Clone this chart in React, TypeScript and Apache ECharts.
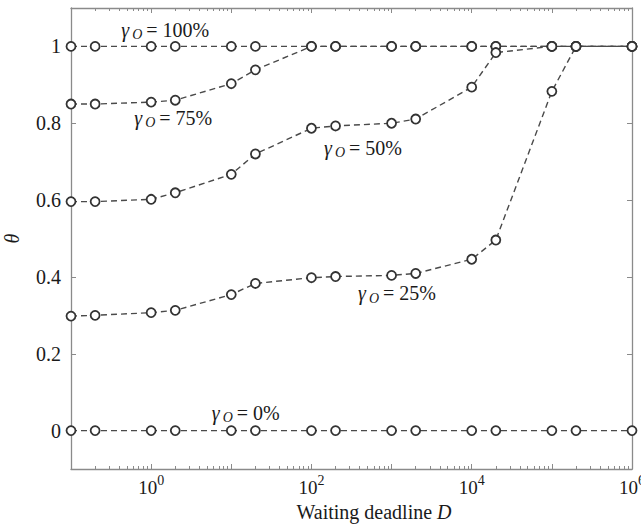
import React, { useEffect, useRef } from "react";
import * as echarts from "echarts";

const xValues = [0.1, 0.2, 1, 2, 10, 20, 100, 200, 1000, 2000, 1e4, 2e4, 1e5, 2e5, 1e6];
const theta100 = [1, 1, 1, 1, 1, 1, 1, 1, 1, 1, 1, 1, 1, 1, 1];
const theta75 = [0.85, 0.85, 0.855, 0.86, 0.903, 0.939, 1, 1, 1, 1, 1, 1, 1, 1, 1];
const theta50 = [0.596, 0.596, 0.602, 0.619, 0.667, 0.72, 0.787, 0.793, 0.8, 0.811, 0.894, 0.984, 1, 1, 1];
const theta25 = [0.298, 0.3, 0.307, 0.313, 0.354, 0.383, 0.398, 0.401, 0.404, 0.409, 0.446, 0.496, 0.883, 1, 1];
const theta0 = [0, 0, 0, 0, 0, 0, 0, 0, 0, 0, 0, 0, 0, 0, 0];
const yTicks = [0, 0.2, 0.4, 0.6, 0.8, 1];
const xLabelTicks = [1, 100, 1e4, 1e6];
const xMinorTicks: number[] = [];
for (let e = -1; e < 6; e++) for (let m = 2; m <= 9; m++) xMinorTicks.push(m * Math.pow(10, e));

const annotations = [
  { pct: "100%", x: 0.423, y: 1.044 },
  { pct: "75%", x: 0.617, y: 0.814 },
  { pct: "50%", x: 143, y: 0.736 },
  { pct: "25%", x: 382, y: 0.357 },
  { pct: "0%", x: 5.7, y: 0.047 },
];

const SERIF = "Liberation Serif, Times New Roman, serif";
const AXIS = "#8a8a8a";
const TXT = "#1a1a1a";

export default function App() {
  const ref = useRef<HTMLDivElement>(null);
  useEffect(() => {
    document.body.style.margin = "0";
    if (!ref.current) return;
    const chart = echarts.init(ref.current, undefined, { renderer: "svg" });
    const mk = (name: string, data: number[]) => ({
      name,
      type: "line",
      xAxisIndex: 0,
      yAxisIndex: 0,
      data: xValues.map((x, i) => [x, data[i]]),
      symbol: "circle",
      symbolSize: 9,
      lineStyle: { color: "#4a4a4a", width: 1.4, type: [6, 4] },
      itemStyle: { color: "#fff", borderColor: "#333", borderWidth: 1.8 },
      z: 3,
    });
    const xBase = {
      type: "log",
      logBase: 10,
      min: 0.1,
      max: 1e6,
      axisLine: { show: true, onZero: false, lineStyle: { color: AXIS, width: 1.3 } },
      splitLine: { show: false },
    };
    const yBase = {
      type: "value",
      min: -0.1,
      max: 1.1,
      axisLine: { show: true, onZero: false, lineStyle: { color: AXIS, width: 1.3 } },
      splitLine: { show: false },
    };
    chart.setOption({
      animation: false,
      backgroundColor: "#fff",
      grid: { left: 71, right: 9, top: 8, bottom: 59, containLabel: false, outerBoundsMode: "none" },
      xAxis: [
        {
          ...xBase,
          position: "bottom",
          axisTick: { show: true, inside: true, length: 5, lineStyle: { color: AXIS } },
          axisLabel: {
            margin: 4,
            customValues: xLabelTicks,
            formatter: (v: number) => `{b|10}{s|${Math.round(Math.log10(v))}}`,
            rich: {
              b: { fontFamily: SERIF, fontSize: 19, color: TXT, lineHeight: 24, verticalAlign: "bottom" },
              s: { fontFamily: SERIF, fontSize: 14, color: TXT, lineHeight: 24, verticalAlign: "top", padding: [0, 0, 7, 0] },
            },
          },
          name: "Waiting deadline {i|D}",
          nameLocation: "middle",
          nameGap: 30,
          nameTextStyle: {
            fontFamily: SERIF,
            fontSize: 20,
            color: TXT,
            padding: [0, 0, 0, 45],
            rich: { i: { fontFamily: SERIF, fontSize: 20, fontStyle: "italic", color: TXT } },
          },
        },
        {
          ...xBase,
          position: "bottom",
          axisLine: { show: false, onZero: false },
          axisTick: { show: true, inside: true, length: 3, customValues: xMinorTicks, lineStyle: { color: AXIS } },
          axisLabel: { show: false },
        },
        {
          ...xBase,
          position: "top",
          axisTick: { show: true, inside: true, length: 5, lineStyle: { color: AXIS } },
          axisLabel: { show: false },
        },
        {
          ...xBase,
          position: "top",
          axisLine: { show: false, onZero: false },
          axisTick: { show: true, inside: true, length: 3, customValues: xMinorTicks, lineStyle: { color: AXIS } },
          axisLabel: { show: false },
        },
      ],
      yAxis: [
        {
          ...yBase,
          position: "left",
          axisTick: { show: true, inside: true, length: 5, customValues: yTicks, lineStyle: { color: AXIS } },
          axisLabel: {
            customValues: yTicks,
            fontFamily: SERIF,
            fontSize: 20,
            color: TXT,
            margin: 10,
            formatter: (v: number) => String(Math.round(v * 10) / 10),
          },
          name: "θ",
          nameLocation: "middle",
          nameRotate: 90,
          nameGap: 49,
          nameTextStyle: { fontFamily: SERIF, fontSize: 20, fontStyle: "italic", color: TXT },
        },
        {
          ...yBase,
          position: "right",
          axisTick: { show: true, inside: true, length: 5, customValues: yTicks, lineStyle: { color: AXIS } },
          axisLabel: { show: false },
        },
      ],
      series: [
        mk("100%", theta100),
        mk("75%", theta75),
        mk("50%", theta50),
        mk("25%", theta25),
        mk("0%", theta0),
      ],
    });

    const graphics = annotations.map((a) => {
      const p = chart.convertToPixel({ xAxisIndex: 0, yAxisIndex: 0 }, [a.x, a.y]) as number[];
      return {
        type: "group",
        x: p[0],
        y: p[1],
        z: 10,
        children: [
          {
            type: "text",
            x: 0,
            y: 0,
            style: { text: "γ", font: `italic 20px ${SERIF}`, fill: TXT, verticalAlign: "middle" },
          },
          {
            type: "text",
            x: 11,
            y: 5,
            style: { text: "O", font: `italic 14px ${SERIF}`, fill: TXT, verticalAlign: "middle" },
          },
          {
            type: "text",
            x: 25,
            y: 0,
            style: { text: "= " + a.pct, font: `20px ${SERIF}`, fill: TXT, verticalAlign: "middle" },
          },
        ],
      };
    });
    chart.setOption({ graphic: graphics });

    return () => chart.dispose();
  }, []);
  return <div ref={ref} style={{ width: 641, height: 528 }} />;
}
